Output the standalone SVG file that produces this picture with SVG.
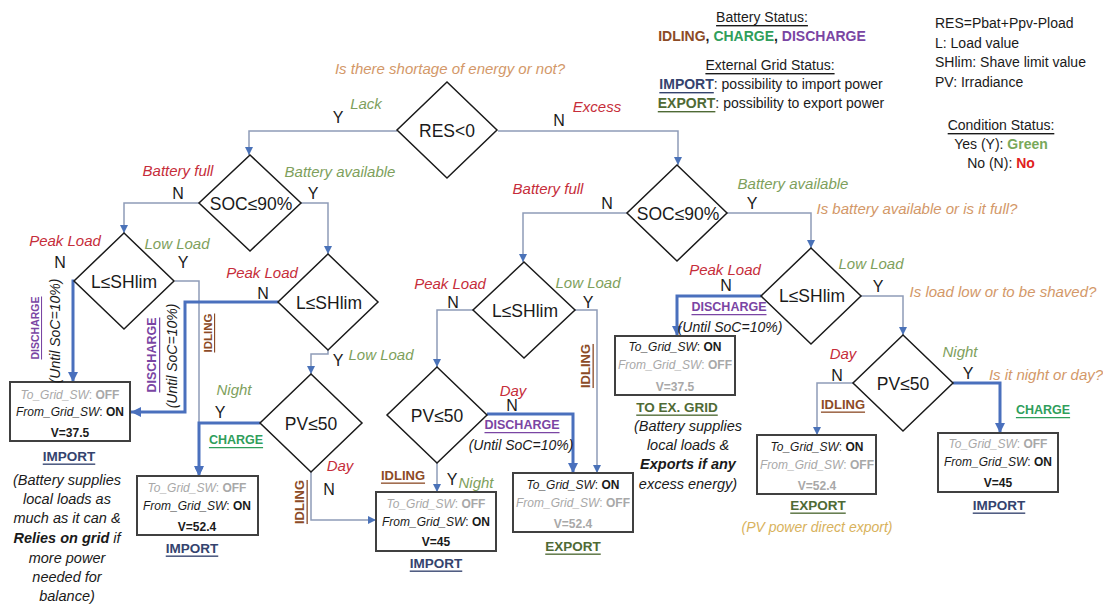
<svg xmlns="http://www.w3.org/2000/svg" width="1103" height="605" viewBox="0 0 1103 605">
<style>
text{font-family:"Liberation Sans",Arial,sans-serif;dominant-baseline:central;text-anchor:middle;fill:#1a1a1a}
.dia{fill:#fff;stroke:#1a1a1a;stroke-width:1.5}
.dt{font-size:17.5px}
.box{fill:#fff;stroke:#404040;stroke-width:2}
.bt{font-size:12px}
.it{font-style:italic}
.b{font-weight:bold}
.gr{fill:#a8a8a8}
.yn{font-size:16px}
.lbl{font-size:15px;font-style:italic}
.red{fill:#c62d3a}
.grn{fill:#7e9f5c}
.org{fill:#d39868}
.st{font-weight:bold;text-decoration:underline}
.idl{fill:#8c4b26}
.chg{fill:#2f9e5b}
.dis{fill:#7a45a3}
.imp{fill:#34436e}
.exp{fill:#4f6a35}
.unt{font-size:14px;font-style:italic}
.par{font-size:14.5px;font-style:italic}
.leg{font-size:14px}
.thin{fill:none;stroke:#8e9cb8;stroke-width:1.5}
.thick{fill:none;stroke:#4a70bd;stroke-width:3}
</style>
<defs>
<marker id="at" markerUnits="userSpaceOnUse" markerWidth="8" markerHeight="8" viewBox="0 0 8 8" refX="8" refY="4" orient="auto"><path d="M0,0 L8,4 L0,8 z" fill="#4a72b8"/></marker>
<marker id="ak" markerUnits="userSpaceOnUse" markerWidth="10" markerHeight="10" viewBox="0 0 10 10" refX="10" refY="5" orient="auto"><path d="M0,0 L10,5 L0,10 z" fill="#4a70bd"/></marker>
</defs>

<g id="connectors">
<path class="thin" d="M397,131 H249 V155" marker-end="url(#at)"/>
<path class="thin" d="M498,131 H678 V165" marker-end="url(#at)"/>
<path class="thin" d="M199,203 H124 V233" marker-end="url(#at)"/>
<path class="thin" d="M301,203 H328 V254" marker-end="url(#at)"/>
<path class="thin" d="M175,281 H199 V476" marker-end="url(#at)"/>
<path class="thick" d="M74,281 H73 V382" marker-end="url(#ak)"/>
<path class="thick" d="M278,302 H185 V412 H131" marker-end="url(#ak)"/>
<path class="thin" d="M328,350 V354 H311 V374" marker-end="url(#at)"/>
<path class="thick" d="M260,423 H199 V476" marker-end="url(#ak)"/>
<path class="thin" d="M311,472 V520 H376" marker-end="url(#at)"/>
<path class="thin" d="M627,213 H523 V262" marker-end="url(#at)"/>
<path class="thin" d="M727,213 H811 V248" marker-end="url(#at)"/>
<path class="thin" d="M473,310 H437 V367" marker-end="url(#at)"/>
<path class="thin" d="M575,310 H597 V473" marker-end="url(#at)"/>
<path class="thick" d="M487,414 H573 V473" marker-end="url(#ak)"/>
<path class="thin" d="M437,463 V492" marker-end="url(#at)"/>
<path class="thick" d="M761,296 H677 V336" marker-end="url(#ak)"/>
<path class="thin" d="M861,296 H903 V335" marker-end="url(#at)"/>
<path class="thin" d="M853,383 H817 V435" marker-end="url(#at)"/>
<path class="thick" d="M953,383 H1000 V433" marker-end="url(#ak)"/>
</g>

<g id="res">
<path class="dia" d="M447,82 L497,130 L447,178 L397,130 Z"/>
<text class="dt" x="447" y="131">RES&lt;0</text>
</g>
<g id="socL">
<path class="dia" d="M250,155 L301,203 L250,251 L199,203 Z"/>
<text class="dt" x="251" y="204">SOC≤90%</text>
</g>
<g id="socR">
<path class="dia" d="M677,165 L727,213 L677,261 L627,213 Z"/>
<text class="dt" x="678" y="214">SOC≤90%</text>
</g>
<g id="shlim1">
<path class="dia" d="M124,233 L174,281 L124,329 L74,281 Z"/>
<text class="dt" x="124" y="282">L≤SHlim</text>
</g>
<g id="shlim2">
<path class="dia" d="M328,254 L378,302 L328,350 L278,302 Z"/>
<text class="dt" x="329" y="303">L≤SHlim</text>
</g>
<g id="shlim3">
<path class="dia" d="M524,262 L575,310 L524,358 L473,310 Z"/>
<text class="dt" x="525" y="311">L≤SHlim</text>
</g>
<g id="shlim4">
<path class="dia" d="M811,248 L861,296 L811,344 L761,296 Z"/>
<text class="dt" x="812" y="296">L≤SHlim</text>
</g>
<g id="pv1">
<path class="dia" d="M311,374 L362,423 L311,472 L260,423 Z"/>
<text class="dt" x="311" y="424">PV≤50</text>
</g>
<g id="pv2">
<path class="dia" d="M437,367 L487,415 L437,463 L387,415 Z"/>
<text class="dt" x="437" y="416">PV≤50</text>
</g>
<g id="pv3">
<path class="dia" d="M903,335 L953,383 L903,431 L853,383 Z"/>
<text class="dt" x="903" y="384">PV≤50</text>
</g>

<g id="box1">
<rect class="box" x="10" y="382" width="120" height="59"/>
<text class="bt gr" x="70" y="395"><tspan class="it">To_Grid_SW</tspan>: <tspan class="b">OFF</tspan></text>
<text class="bt" x="70" y="412"><tspan class="it">From_Grid_SW</tspan>: <tspan class="b">ON</tspan></text>
<text class="bt b" x="70" y="433">V=37.5</text>
<text class="st imp" x="69" y="456" font-size="13.5">IMPORT</text>
<text class="par" x="67" y="480">(Battery supplies</text>
<text class="par" x="67" y="499">local loads as</text>
<text class="par" x="67" y="518">much as it can &amp;</text>
<text class="par" x="67" y="538"><tspan class="b">Relies on grid</tspan> if</text>
<text class="par" x="67" y="558">more power</text>
<text class="par" x="67" y="577">needed for</text>
<text class="par" x="67" y="596">balance)</text>
</g>
<g id="box2">
<rect class="box" x="137" y="476" width="121" height="59"/>
<text class="bt gr" x="197" y="488"><tspan class="it">To_Grid_SW</tspan>: <tspan class="b">OFF</tspan></text>
<text class="bt" x="197" y="506"><tspan class="it">From_Grid_SW</tspan>: <tspan class="b">ON</tspan></text>
<text class="bt b" x="197" y="527">V=52.4</text>
<text class="st imp" x="192" y="548" font-size="13.5">IMPORT</text>
</g>
<g id="box3">
<rect class="box" x="376" y="492" width="120" height="59"/>
<text class="bt gr" x="436" y="504"><tspan class="it">To_Grid_SW</tspan>: <tspan class="b">OFF</tspan></text>
<text class="bt" x="436" y="522"><tspan class="it">From_Grid_SW</tspan>: <tspan class="b">ON</tspan></text>
<text class="bt b" x="436" y="542">V=45</text>
<text class="st imp" x="436" y="563" font-size="13.5">IMPORT</text>
</g>
<g id="box4">
<rect class="box" x="513" y="473" width="120" height="59"/>
<text class="bt" x="573" y="485"><tspan class="it">To_Grid_SW</tspan>: <tspan class="b">ON</tspan></text>
<text class="bt gr" x="573" y="503"><tspan class="it">From_Grid_SW</tspan>: <tspan class="b">OFF</tspan></text>
<text class="bt b gr" x="573" y="524">V=52.4</text>
<text class="st exp" x="573" y="546" font-size="13.5">EXPORT</text>
</g>
<g id="box5">
<rect class="box" x="615" y="336" width="120" height="59"/>
<text class="bt" x="675" y="347"><tspan class="it">To_Grid_SW</tspan>: <tspan class="b">ON</tspan></text>
<text class="bt gr" x="675" y="365"><tspan class="it">From_Grid_SW</tspan>: <tspan class="b">OFF</tspan></text>
<text class="bt b gr" x="675" y="387">V=37.5</text>
<text class="st exp" x="677" y="407" font-size="13.5">TO EX. GRID</text>
<text class="par" x="688" y="426">(Battery supplies</text>
<text class="par" x="688" y="445">local loads &amp;</text>
<text class="par b" x="688" y="464">Exports if any</text>
<text class="par" x="688" y="484">excess energy)</text>
</g>
<g id="box6">
<rect class="box" x="757" y="435" width="119" height="59"/>
<text class="bt" x="817" y="447"><tspan class="it">To_Grid_SW</tspan>: <tspan class="b">ON</tspan></text>
<text class="bt gr" x="817" y="465"><tspan class="it">From_Grid_SW</tspan>: <tspan class="b">OFF</tspan></text>
<text class="bt b gr" x="817" y="486">V=52.4</text>
<text class="st exp" x="818" y="505" font-size="13.5">EXPORT</text>
<text class="unt" x="817" y="527" fill="#d8b25c" style="fill:#d8b25c">(PV power direct export)</text>
</g>
<g id="box7">
<rect class="box" x="938" y="433" width="120" height="59"/>
<text class="bt gr" x="998" y="444"><tspan class="it">To_Grid_SW</tspan>: <tspan class="b">OFF</tspan></text>
<text class="bt" x="998" y="462"><tspan class="it">From_Grid_SW</tspan>: <tspan class="b">ON</tspan></text>
<text class="bt b" x="998" y="483">V=45</text>
<text class="st imp" x="999" y="505" font-size="13.5">IMPORT</text>
</g>

<g id="branch-labels">
<text class="lbl org" x="450" y="68">Is there shortage of energy or not?</text>
<text class="lbl grn" x="366" y="103">Lack</text>
<text class="lbl red" x="597" y="106">Excess</text>
<text class="lbl red" x="178" y="170">Battery full</text>
<text class="lbl grn" x="340" y="171">Battery available</text>
<text class="lbl red" x="548" y="188">Battery full</text>
<text class="lbl grn" x="793" y="183">Battery available</text>
<text class="lbl org" x="917" y="208">Is battery available or is it full?</text>
<text class="lbl red" x="65" y="240">Peak Load</text>
<text class="lbl grn" x="177" y="243">Low Load</text>
<text class="lbl red" x="262" y="272">Peak Load</text>
<text class="lbl grn" x="381" y="354">Low Load</text>
<text class="lbl red" x="450" y="283">Peak Load</text>
<text class="lbl grn" x="588" y="282">Low Load</text>
<text class="lbl red" x="725" y="269">Peak Load</text>
<text class="lbl grn" x="871" y="263">Low Load</text>
<text class="lbl org" x="1003" y="291">Is load low or to be shaved?</text>
<text class="lbl grn" x="234" y="389">Night</text>
<text class="lbl red" x="340" y="465">Day</text>
<text class="lbl red" x="513" y="390">Day</text>
<text class="lbl grn" x="476" y="482">Night</text>
<text class="lbl red" x="843" y="353">Day</text>
<text class="lbl grn" x="960" y="351">Night</text>
<text class="lbl org" x="1046" y="374">Is it night or day?</text>
<text class="yn" x="338" y="117">Y</text>
<text class="yn" x="559" y="120">N</text>
<text class="yn" x="178" y="193">N</text>
<text class="yn" x="313" y="193">Y</text>
<text class="yn" x="607" y="203">N</text>
<text class="yn" x="752" y="203">Y</text>
<text class="yn" x="60" y="262">N</text>
<text class="yn" x="183" y="262">Y</text>
<text class="yn" x="263" y="293">N</text>
<text class="yn" x="338" y="360">Y</text>
<text class="yn" x="453" y="302">N</text>
<text class="yn" x="588" y="302">Y</text>
<text class="yn" x="726" y="285">N</text>
<text class="yn" x="878" y="286">Y</text>
<text class="yn" x="220" y="412">Y</text>
<text class="yn" x="329" y="489">N</text>
<text class="yn" x="512" y="405">N</text>
<text class="yn" x="452" y="479">Y</text>
<text class="yn" x="837" y="375">N</text>
<text class="yn" x="968" y="373">Y</text>
</g>

<g id="status-labels">
<text class="st dis" x="35" y="328" font-size="10.5" transform="rotate(-90 35 328)">DISCHARGE</text>
<text class="unt" x="55" y="331" font-size="13.5" transform="rotate(-90 55 331)">(Until SoC=10%)</text>
<text class="st dis" x="152" y="355" font-size="12.5" transform="rotate(-90 152 355)">DISCHARGE</text>
<text class="unt" x="172" y="356" transform="rotate(-90 172 356)">(Until SoC=10%)</text>
<text class="st idl" x="208" y="333" font-size="11.5" transform="rotate(-90 208 333)">IDLING</text>
<text class="st idl" x="585" y="366" font-size="13" transform="rotate(-90 585 366)">IDLING</text>
<text class="st idl" x="299" y="502" font-size="13" transform="rotate(-90 299 502)">IDLING</text>
<text class="st chg" x="236" y="440" font-size="12.5">CHARGE</text>
<text class="st dis" x="522" y="425" font-size="12.5">DISCHARGE</text>
<text class="unt" x="521" y="445">(Until SoC=10%)</text>
<text class="st idl" x="403" y="475" font-size="13">IDLING</text>
<text class="st dis" x="729" y="307" font-size="12.5">DISCHARGE</text>
<text class="unt" x="730" y="327">(Until SoC=10%)</text>
<text class="st idl" x="843" y="404" font-size="13">IDLING</text>
<text class="st chg" x="1043" y="410" font-size="12.5">CHARGE</text>
</g>

<g id="legend">
<text class="leg" x="762" y="17" text-decoration="underline">Battery Status:</text>
<text class="leg b" x="762" y="36"><tspan class="idl">IDLING</tspan>, <tspan class="chg">CHARGE</tspan>, <tspan class="dis">DISCHARGE</tspan></text>
<text class="leg" x="770" y="65" text-decoration="underline">External Grid Status:</text>
<text class="leg" x="771" y="84"><tspan class="st imp">IMPORT</tspan>: possibility to import power</text>
<text class="leg" x="771" y="103"><tspan class="st exp">EXPORT</tspan>: possibility to export power</text>
<text class="leg" x="935" y="23" text-anchor="start" style="text-anchor:start">RES=Pbat+Ppv-Pload</text>
<text class="leg" x="935" y="43" style="text-anchor:start">L: Load value</text>
<text class="leg" x="935" y="62" style="text-anchor:start">SHlim: Shave limit value</text>
<text class="leg" x="935" y="82" style="text-anchor:start">PV: Irradiance</text>
<text class="leg" x="1001" y="125" text-decoration="underline">Condition Status:</text>
<text class="leg" x="1001" y="144">Yes (Y): <tspan class="b" style="fill:#78a85a">Green</tspan></text>
<text class="leg" x="1001" y="163">No (N): <tspan class="b" style="fill:#e02020">No</tspan></text>
</g>
</svg>
